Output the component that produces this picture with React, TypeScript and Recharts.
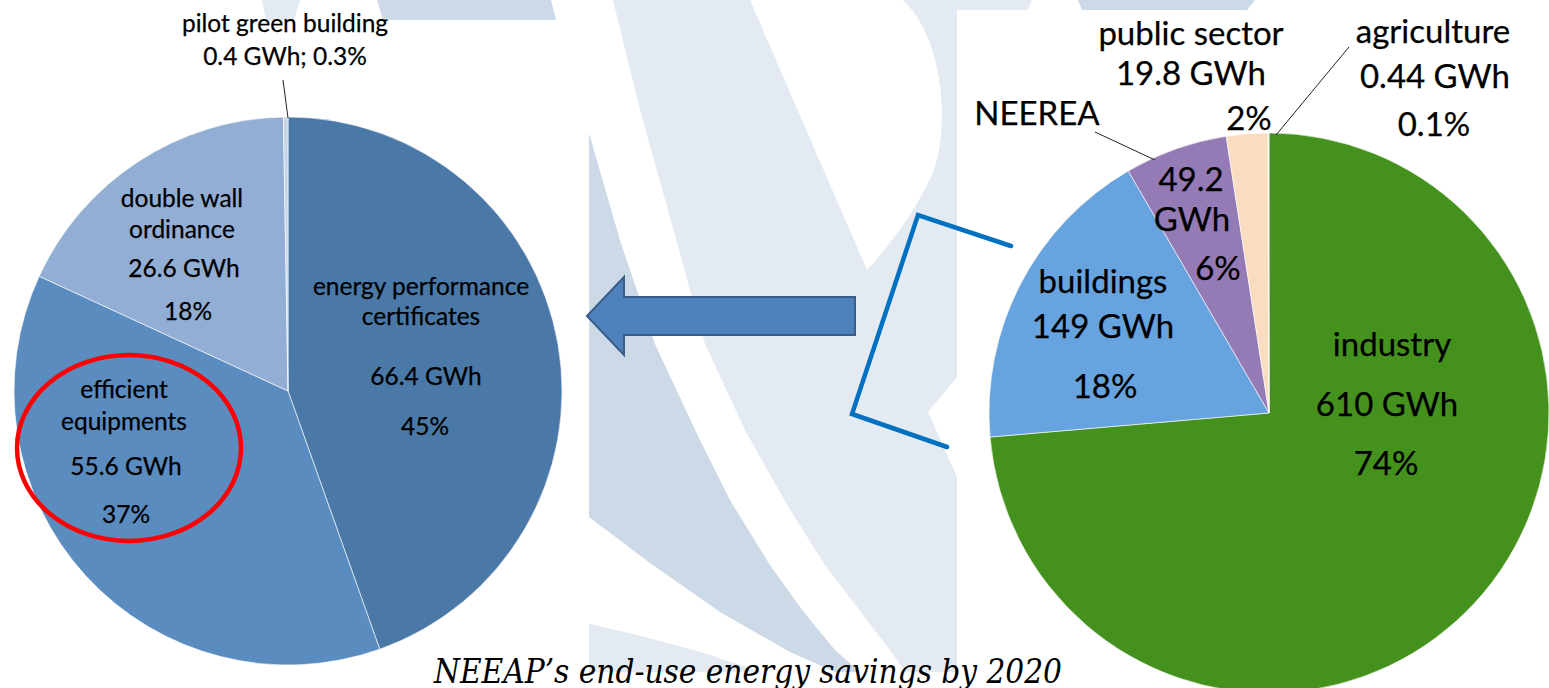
import React from "react";
import { PieChart, Pie, Cell } from "recharts";

const W = 1549;
const H = 688;

// left pie: savings inside the buildings sector (GWh)
const leftNames = [
  "energy performance\ncertificates",
  "efficient\nequipments",
  "double wall\nordinance",
  "pilot green building",
];
const leftValues = [66.4, 55.6, 26.6, 0.4];
const leftPercents = ["45%", "37%", "18%", "0.3%"];
const leftColors = ["#4A79A7", "#5A8CBF", "#93AED4", "#C6D4E7"];

// right pie: end-use sectors (GWh)
const rightNames = ["industry", "buildings", "NEEREA", "public sector", "agriculture"];
const rightValues = [610, 149, 49.2, 19.8, 0.44];
const rightPercents = ["74%", "18%", "6%", "2%", "0.1%"];
const rightColors = ["#44911E", "#67A3DE", "#957BB6", "#FADCC1", "#E6E6E6"];

const caption = "NEEAP\u2019s end-use energy savings by 2020";

const leftData = leftNames.map((name, i) => ({ name, value: leftValues[i], pct: leftPercents[i] }));
const rightData = rightNames.map((name, i) => ({ name, value: rightValues[i], pct: rightPercents[i] }));

type Place = {
  mode: "stack" | "inline" | "split";
  at: [number, number][];
  leader?: [number, number, number, number];
};

// label line positions, relative to the pie centre
const leftPlace: Place[] = [
  { mode: "stack", at: [[133, -106], [133, -76], [138, -16], [137, 34]] },
  { mode: "stack", at: [[-164, -3], [-164, 29], [-162, 74], [-162, 122]] },
  { mode: "stack", at: [[-106, -194], [-106, -163], [-104, -124], [-100, -81]] },
  { mode: "inline", at: [[-3, -369], [-3, -336]], leader: [-5, -311, 0, -273] },
];

const rightPlace: Place[] = [
  { mode: "stack", at: [[123, -70], [118, -10], [117, 49]] },
  { mode: "stack", at: [[-166, -133], [-166, -88], [-164, -28]] },
  { mode: "split", at: [[-232, -301], [-78, -235], [-77, -195], [-51, -146]], leader: [-174, -281, -114, -253] },
  { mode: "stack", at: [[-78, -381], [-78, -341], [-20, -296]] },
  { mode: "stack", at: [[164, -383], [166, -338], [165, -290]], leader: [7, -278, 80, -366] },
];

const labelLines = (mode: string, name: string, value: number, pct: string) => {
  if (mode === "inline") return [name, `${value} GWh; ${pct}`];
  if (mode === "split") return [name, `${value}`, "GWh", pct];
  return [...name.split("\n"), `${value} GWh`, pct];
};

const makeLabel = (places: Place[], fontSize: number) => (props: any) => {
  const { cx, cy, index, payload } = props;
  const p = places[index];
  const lines = labelLines(p.mode, payload.name, payload.value, payload.pct);
  return (
    <g key={`lbl-${index}`}>
      {p.leader && (
        <line
          x1={cx + p.leader[0]}
          y1={cy + p.leader[1]}
          x2={cx + p.leader[2]}
          y2={cy + p.leader[3]}
          stroke="#222"
          strokeWidth={1}
        />
      )}
      {lines.map((t, i) => (
        <text
          key={i}
          x={cx + p.at[i][0]}
          y={cy + p.at[i][1]}
          textAnchor="middle"
          dominantBaseline="central"
          fontFamily="Lato, 'Open Sans', sans-serif"
          fontSize={fontSize}
          stroke="#000"
          strokeWidth={0.25}
          fill="#000"
        >
          {t}
        </text>
      ))}
    </g>
  );
};

function Watermark() {
  const light = "#E3EAF2";
  const dark = "#CCD9E6";
  return (
    <svg width={W} height={H} style={{ position: "absolute", left: 0, top: 0 }}>
      {/* strips above the chart boxes */}
      <polygon points="262,0 300,0 294,20 266,20" fill={light} />
      <polygon points="377,0 551,0 556,20 383,20" fill={dark} />
      <polygon points="957,0 1032,0 1028,10 957,10" fill={light} />
      <polygon points="1078,0 1255,0 1247,10 1082,10" fill={dark} />
      {/* middle panel */}
      <rect x={589} y={0} width={368} height={672} fill={light} />
      <polygon
        points="589,133 620,240 655,344 700,440 730,500 770,565 803,611 835,650 860,672 589,672"
        fill={dark}
      />
      {/* white stripe */}
      <polygon
        points="589,0 613,0 640,110 668,210 705,344 745,430 787,505 825,565 860,611 890,650 905,672 860,672 835,650 803,611 770,565 730,500 700,440 655,344 620,240 589,133"
        fill="#fff"
      />
      {/* white wedge */}
      <path d="M750,0 L903,0 C945,40 950,130 932,175 C915,212 890,245 867,270 Z" fill="#fff" />
      {/* lower white stripe */}
      <polygon points="589,517 650,563 720,612 790,652 835,672 760,672 700,652 640,636 589,624" fill="#fff" />
      <polygon points="589,624 640,636 700,652 760,672 589,672" fill={light} />
      {/* notch on the right */}
      <polygon points="957,377 928,412 957,477" fill="#fff" />
    </svg>
  );
}

function Overlay() {
  return (
    <svg width={W} height={H} style={{ position: "absolute", left: 0, top: 0, pointerEvents: "none" }}>
      <ellipse cx={129} cy={448} rx={112} ry={93} fill="none" stroke="#FF0000" strokeWidth={4.5} />
      <polygon
        points="587,316 624,277 624,297 855,297 855,335 624,335 624,355"
        fill="#4F81BD"
        stroke="#385D8A"
        strokeWidth={2}
      />
      <polyline
        points="1011,246 918,215 852,414 947,447"
        fill="none"
        stroke="#0070C0"
        strokeWidth={4.5}
        strokeLinecap="round"
        strokeLinejoin="miter"
      />
      <text
        x={748}
        y={683}
        textAnchor="middle"
        fontFamily="'DejaVu Serif', serif"
        fontStyle="italic"
        fontSize={34}
        textLength={628}
        lengthAdjust="spacingAndGlyphs"
        fill="#000"
      >
        {caption}
      </text>
    </svg>
  );
}

export default function App() {
  return (
    <div style={{ position: "absolute", left: 0, top: 0, width: W, height: H, background: "#fff", overflow: "hidden" }}>
      <Watermark />
      <div style={{ position: "absolute", left: 0, top: 0 }}>
        <PieChart width={W} height={H} margin={{ top: 0, right: 0, bottom: 0, left: 0 }}>
          <Pie
            data={leftData}
            dataKey="value"
            nameKey="name"
            cx={288}
            cy={391}
            outerRadius={274}
            startAngle={90}
            endAngle={-270}
            stroke="#ffffff"
            strokeOpacity={0.6}
            strokeWidth={1}
            label={makeLabel(leftPlace, 24.5)}
            labelLine={false}
            isAnimationActive={false}
          >
            {leftData.map((d, i) => (
              <Cell key={d.name} fill={leftColors[i]} />
            ))}
          </Pie>
          <Pie
            data={rightData}
            dataKey="value"
            nameKey="name"
            cx={1269}
            cy={413}
            outerRadius={280}
            startAngle={90}
            endAngle={-270}
            stroke="#ffffff"
            strokeOpacity={0.6}
            strokeWidth={1}
            label={makeLabel(rightPlace, 33)}
            labelLine={false}
            isAnimationActive={false}
          >
            {rightData.map((d, i) => (
              <Cell key={d.name} fill={rightColors[i]} />
            ))}
          </Pie>
        </PieChart>
      </div>
      <Overlay />
    </div>
  );
}
